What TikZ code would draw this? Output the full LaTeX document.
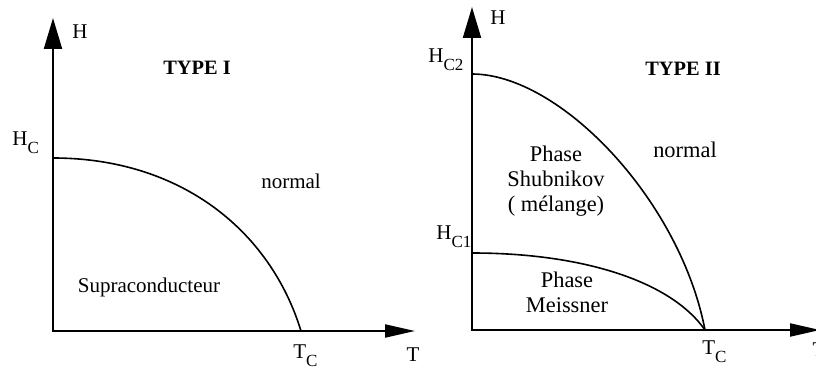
\documentclass[tikz,border=0pt]{standalone}
\usepackage{fontspec}
\setmainfont{Liberation Serif}
\usetikzlibrary{arrows.meta}

\newcommand{\dn}[1]{\raisebox{-4pt}{\fontsize{8.5}{10}\selectfont #1}}

\begin{document}
\begin{tikzpicture}[x=0.5pt, y=-0.5pt,
          axes/.style={line width=1pt, {Triangle[length=15.5pt, width=9pt]}-{Triangle[length=15pt, width=6.5pt]}},
          crb/.style={line width=0.8pt},
          lb/.style={font=\fontsize{10.5}{12.5}\selectfont, inner sep=0pt, anchor=base},
          lbr/.style={lb, font=\fontsize{11.2}{12.5}\selectfont},
          ttl/.style={lb, font=\fontsize{10.2}{12}\selectfont\bfseries}
        ]
        \useasboundingbox (0,0) rectangle (816,374);
        % type I
        \coordinate (o1) at (53,331);
        \coordinate (h1) at (53,18);
        \coordinate (t1) at (415,331);
        \coordinate (hc) at (53,158);
        \coordinate (tc1) at (301,331);
        \draw[axes] (h1) -- (o1) -- (t1);
        \draw[crb] (hc) .. controls (180,158) and (270,230) .. (tc1);
        \node[lb] (hl1) at (80,39) {H};
        \node[ttl] (ty1) at (197,75) {TYPE I};
        \node[lb, anchor=base west] (hcl) at (12,146) {H\dn{C}};
        \node[lb] (nm1) at (291,189) {normal};
        \node[lb] (sp) at (149,293) {Supraconducteur};
        \node[lb, anchor=base west] (tcl1) at (293,359) {T\dn{C}};
        \node[lb] (tl1) at (413,362) {T};
        % type II
        \coordinate (o2) at (472,330);
        \coordinate (h2) at (472,7);
        \coordinate (t2) at (820,330);
        \coordinate (hc2) at (472,74);
        \coordinate (hc1) at (472,253);
        \coordinate (tc2) at (705,330);
        \draw[axes] (h2) -- (o2) -- (t2);
        \draw[crb] (hc2) .. controls (560,74) and (680,200) .. (tc2);
        \draw[crb] (hc1) .. controls (580,253) and (670,280) .. (tc2);
        \node[lb] (hl2) at (498,25) {H};
        \node[lb, anchor=base west] (hcl2) at (428,63) {H\dn{C2}};
        \node[ttl] (ty2) at (683,76) {TYPE II};
        \node[lbr] (nm2) at (685,158) {normal};
        \node[lbr, align=center] (shb) at (556,212) {Phase\\Shubnikov\\( mélange)};
        \node[lb, anchor=base west] (hcl1) at (436,240) {H\dn{C1}};
        \node[lbr, align=center] (msn) at (567,313) {Phase\\Meissner};
        \node[lb, anchor=base west] (tcl2) at (702,355) {T\dn{C}};
        \node[lb] (tl2) at (819,357) {T};
      \end{tikzpicture}
\end{document}
